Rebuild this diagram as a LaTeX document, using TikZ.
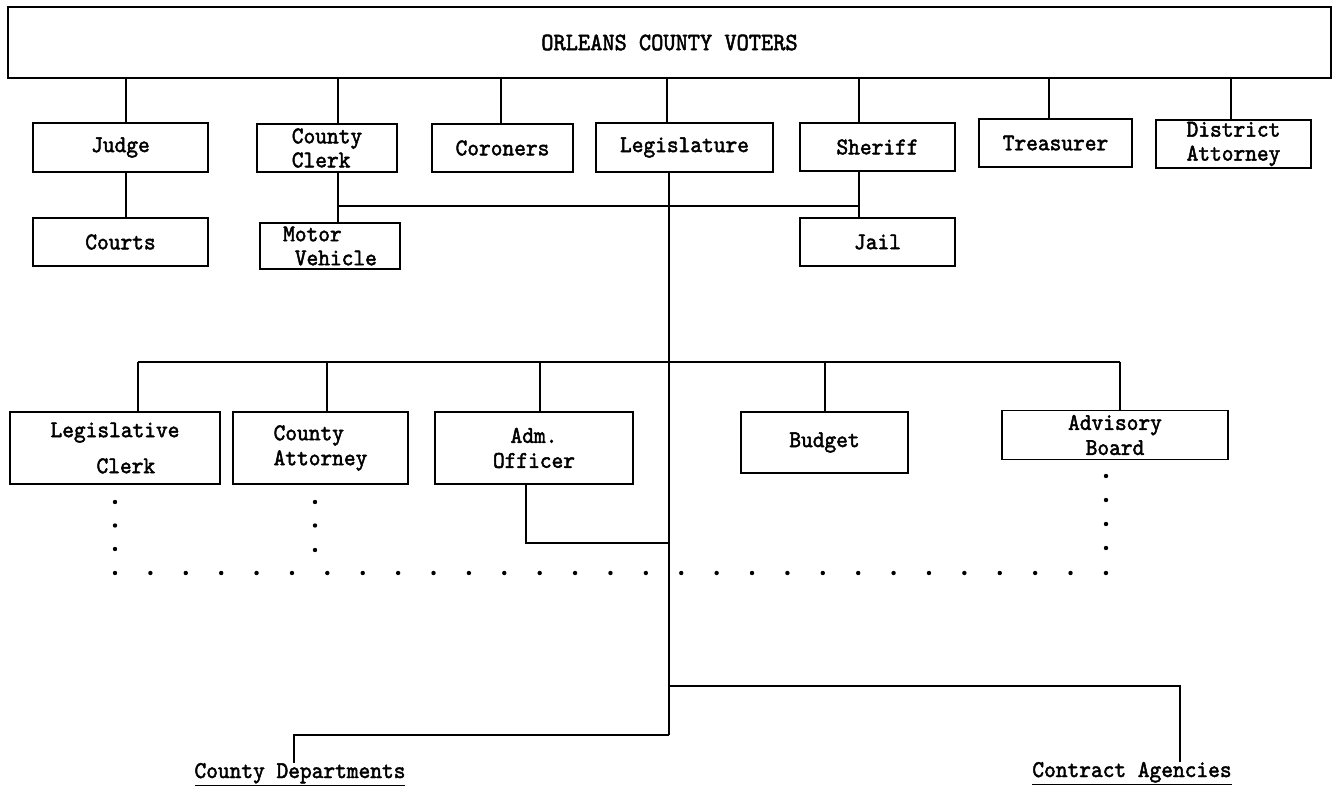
\documentclass[tikz,border=0pt]{standalone}
\usepackage{fontspec}
\newfontfamily\tw[FakeStretch=0.93,FakeBold=2]{lmmono10-regular.otf}
\begin{document}
\begin{tikzpicture}[x=1pt,y=-1pt,
  box/.style={draw, line width=1.5pt, rectangle, inner sep=0pt, align=center,
    font=\tw\fontsize{24}{24}\selectfont},
  wire/.style={line width=1.5pt},
  lbl/.style={font=\tw\fontsize{24}{24}\selectfont, inner sep=0pt, anchor=base},
  dot/.style={fill=black}]
\useasboundingbox (0,0) rectangle (1333,786);
% top box
\node[box, minimum width=1323, minimum height=71, font=\tw\fontsize{25}{25}\selectfont] (voters) at (669.5,42.5) {ORLEANS COUNTY VOTERS};
% row 1
\node[box, minimum width=175, minimum height=49] (judge) at (120.5,147.5) {Judge};
\node[box, minimum width=140, minimum height=48, align=left] (cclerk) at (327,148) {County\\Clerk};
\node[box, minimum width=141, minimum height=48] (coroners) at (502.5,148) {Coroners};
\node[box, minimum width=177, minimum height=49] (legis) at (684.5,147.5) {Legislature};
\node[box, minimum width=155, minimum height=48] (sheriff) at (877.5,147) {Sheriff};
\node[box, minimum width=153, minimum height=48] (treas) at (1055.5,143) {Treasurer};
\node[box, minimum width=155, minimum height=48] (da) at (1233.5,144) {District\\Attorney};
% row 2
\node[box, minimum width=175, minimum height=48] (courts) at (120.5,242) {Courts};
\node[box, minimum width=140, minimum height=46, align=left] (motor) at (330,246) {Motor\\\hspace*{11.7pt}Vehicle};
\node[box, minimum width=155, minimum height=48] (jail) at (877.5,242) {Jail};
% row 3
\node[box, minimum width=210, minimum height=72, align=left, font=\tw\fontsize{24}{36}\selectfont] (lclerk) at (115,448) {Legislative\\\hspace*{46pt}Clerk};
\node[box, minimum width=175, minimum height=72, align=left, font=\tw\fontsize{24}{25}\selectfont] (catty) at (320.5,448) {County\\Attorney};
\node[box, minimum width=198, minimum height=72, font=\tw\fontsize{24}{25}\selectfont] (adm) at (534,448) {Adm.\\Officer};
\node[box, minimum width=167, minimum height=61] (budget) at (824.5,442.5) {Budget};
\node[box, minimum width=226, minimum height=49, font=\tw\fontsize{24}{25}\selectfont] (advis) at (1115,435) {Advisory\\Board};
% bottom labels
\node[lbl] (cdept) at (300,778) {\underline{County Departments}};
\node[lbl] (cagen) at (1132,777) {\underline{Contract Agencies}};
% connector x positions
\coordinate (xj) at (126,0);
\coordinate (xcc) at (338,0);
\coordinate (xco) at (501,0);
\coordinate (xl1) at (667,0);
\coordinate (xl2) at (669,0);
\coordinate (xsh) at (859,0);
\coordinate (xtr) at (1049,0);
\coordinate (xda) at (1231,0);
\coordinate (xlc) at (138,0);
\coordinate (xca) at (327,0);
\coordinate (xad) at (540,0);
\coordinate (xbu) at (825,0);
\coordinate (xav) at (1120,0);
\coordinate (xcd) at (294,0);
\coordinate (xcg) at (1180,0);
\coordinate (ycs) at (0,206);
\coordinate (ybus) at (0,362);
\coordinate (admc) at (526,543);
\coordinate (lend) at (669,735);
\coordinate (cj) at (669,686);
% voters to row 1
\draw[wire] (voters.south -| xj) -- (judge.north -| xj);
\draw[wire] (voters.south -| xcc) -- (cclerk.north -| xcc);
\draw[wire] (voters.south -| xco) -- (coroners.north -| xco);
\draw[wire] (voters.south -| xl1) -- (legis.north -| xl1);
\draw[wire] (voters.south -| xsh) -- (sheriff.north -| xsh);
\draw[wire] (voters.south -| xtr) -- (treas.north -| xtr);
\draw[wire] (voters.south -| xda) -- (da.north -| xda);
% row 1 to row 2
\draw[wire] (judge.south -| xj) -- (courts.north -| xj);
\draw[wire] (cclerk.south -| xcc) -- (motor.north -| xcc);
\draw[wire] (sheriff.south -| xsh) -- (jail.north -| xsh);
\draw[wire] (ycs -| xcc) -- (ycs -| xsh);
% legislature trunk
\draw[wire] (legis.south -| xl2) -- (lend);
\draw[wire] (ybus -| xlc) -- (ybus -| xav);
\draw[wire] (ybus -| xlc) -- (lclerk.north -| xlc);
\draw[wire] (ybus -| xca) -- (catty.north -| xca);
\draw[wire] (ybus -| xad) -- (adm.north -| xad);
\draw[wire] (ybus -| xbu) -- (budget.north -| xbu);
\draw[wire] (ybus -| xav) -- (advis.north -| xav);
\draw[wire] (adm.south -| admc) -- (admc) -- (admc -| xl2);
% bottom branches
\draw[wire] (lend) -- (lend -| xcd) -- (cdept.north -| xcd);
\draw[wire] (cj) -- (cj -| xcg) -- (cagen.north -| xcg);
% dotted lines
\foreach \k in {0,...,28} \fill[dot] ({115+\k*35.39},573) circle[radius=2.2pt];
\foreach \yy in {502,525.5,549} \fill[dot] (115,\yy) circle[radius=2.2pt];
\foreach \yy in {502,525.5,550} \fill[dot] (315,\yy) circle[radius=2.2pt];
\foreach \yy in {476,500,524,548} \fill[dot] (1106,\yy) circle[radius=2.2pt];
\end{tikzpicture}
\end{document}
